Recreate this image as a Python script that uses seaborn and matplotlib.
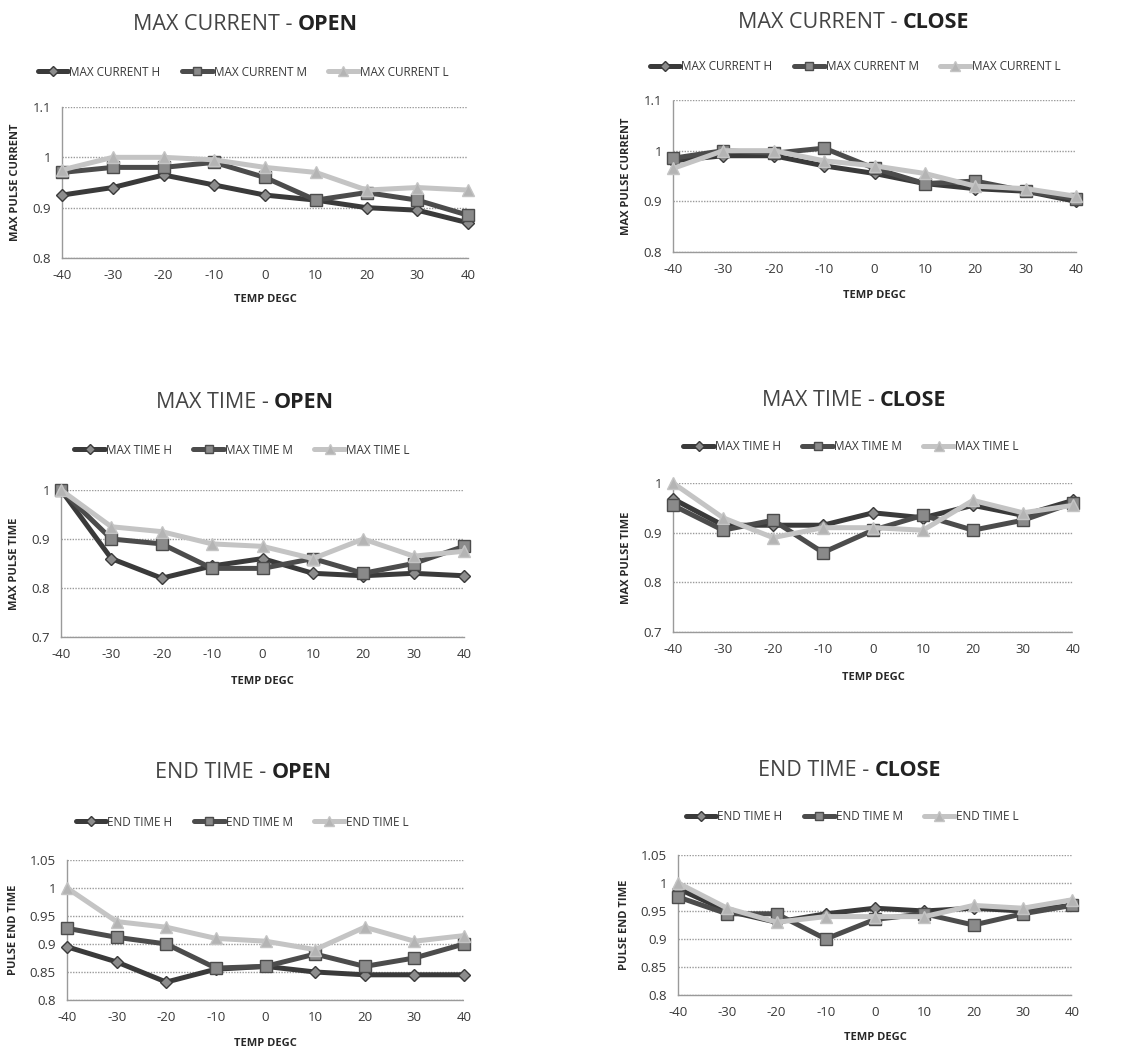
import numpy as np
import pandas as pd
import matplotlib
matplotlib.use("Agg")
import matplotlib.pyplot as plt
import seaborn as sns
from matplotlib.ticker import FuncFormatter

# ---------------- data ----------------
temps = [-40, -30, -20, -10, 0, 10, 20, 30, 40]

mc_open_h = [0.925, 0.94, 0.965, 0.945, 0.925, 0.915, 0.90, 0.895, 0.87]
mc_open_m = [0.97, 0.98, 0.98, 0.99, 0.96, 0.915, 0.93, 0.915, 0.885]
mc_open_l = [0.975, 1.0, 1.0, 0.995, 0.98, 0.97, 0.935, 0.94, 0.935]

mc_close_h = [0.98, 0.99, 0.99, 0.97, 0.955, 0.935, 0.925, 0.92, 0.90]
mc_close_m = [0.985, 1.0, 0.995, 1.005, 0.965, 0.935, 0.94, 0.92, 0.905]
mc_close_l = [0.965, 1.0, 1.0, 0.98, 0.97, 0.955, 0.93, 0.925, 0.91]

mt_open_h = [1.0, 0.86, 0.82, 0.845, 0.86, 0.83, 0.825, 0.83, 0.825]
mt_open_m = [1.0, 0.90, 0.89, 0.84, 0.84, 0.86, 0.83, 0.85, 0.885]
mt_open_l = [1.0, 0.925, 0.915, 0.89, 0.885, 0.86, 0.90, 0.865, 0.875]

mt_close_h = [0.968, 0.915, 0.915, 0.915, 0.94, 0.93, 0.955, 0.935, 0.965]
mt_close_m = [0.955, 0.905, 0.925, 0.86, 0.905, 0.935, 0.905, 0.925, 0.96]
mt_close_l = [1.0, 0.93, 0.89, 0.91, 0.91, 0.905, 0.965, 0.94, 0.955]

et_open_h = [0.895, 0.868, 0.832, 0.855, 0.86, 0.85, 0.845, 0.845, 0.845]
et_open_m = [0.928, 0.912, 0.90, 0.857, 0.86, 0.882, 0.86, 0.875, 0.90]
et_open_l = [1.0, 0.94, 0.93, 0.91, 0.905, 0.89, 0.93, 0.905, 0.915]

et_close_h = [0.99, 0.95, 0.93, 0.945, 0.955, 0.95, 0.955, 0.95, 0.96]
et_close_m = [0.975, 0.945, 0.945, 0.90, 0.935, 0.945, 0.925, 0.945, 0.96]
et_close_l = [1.0, 0.955, 0.93, 0.94, 0.94, 0.94, 0.96, 0.955, 0.97]

series_suffix = ["H", "M", "L"]

panels = [
    dict(title1="MAX CURRENT - ", title2="OPEN", prefix="MAX CURRENT", ylabel="MAX PULSE CURRENT",
         data=[mc_open_h, mc_open_m, mc_open_l], yticks=[0.8, 0.9, 1.0, 1.1]),
    dict(title1="MAX CURRENT - ", title2="CLOSE", prefix="MAX CURRENT", ylabel="MAX PULSE CURRENT",
         data=[mc_close_h, mc_close_m, mc_close_l], yticks=[0.8, 0.9, 1.0, 1.1]),
    dict(title1="MAX TIME - ", title2="OPEN", prefix="MAX TIME", ylabel="MAX PULSE TIME",
         data=[mt_open_h, mt_open_m, mt_open_l], yticks=[0.7, 0.8, 0.9, 1.0]),
    dict(title1="MAX TIME - ", title2="CLOSE", prefix="MAX TIME", ylabel="MAX PULSE TIME",
         data=[mt_close_h, mt_close_m, mt_close_l], yticks=[0.7, 0.8, 0.9, 1.0]),
    dict(title1="END TIME - ", title2="OPEN", prefix="END TIME", ylabel="PULSE END TIME",
         data=[et_open_h, et_open_m, et_open_l], yticks=[0.8, 0.85, 0.9, 0.95, 1.0, 1.05]),
    dict(title1="END TIME - ", title2="CLOSE", prefix="END TIME", ylabel="PULSE END TIME",
         data=[et_close_h, et_close_m, et_close_l], yticks=[0.8, 0.85, 0.9, 0.95, 1.0, 1.05]),
]

# ---------------- layout (pixels) ----------------
W, H = 1130, 1050
layout = [
    dict(ax=(62, 468, 107, 258), tj=(298, 25), lg=(243, 72), xl=300),
    dict(ax=(673, 1076, 100, 252), tj=(903, 22), lg=(855, 67), xl=295),
    dict(ax=(61, 464, 490, 637), tj=(274, 403), lg=(242, 450), xl=682),
    dict(ax=(673, 1073, 483, 632), tj=(880, 400), lg=(851, 447), xl=677),
    dict(ax=(67, 464, 860, 1000), tj=(272, 773), lg=(242, 822), xl=1043),
    dict(ax=(678, 1072, 855, 995), tj=(875, 770), lg=(852, 817), xl=1038),
]

sns.set_style("white")
plt.rcParams["font.family"] = ["Open Sans", "DejaVu Sans"]
plt.rcParams["axes.unicode_minus"] = False

line_colors = ["#3a3a3a", "#4c4c4c", "#c4c4c4"]
face_colors = ["#8c8c8c", "#8a8a8a", "#b4b4b4"]
markers = ["D", "s", "^"]
msizes = [6.5, 8, 8.5]
text_col = "#383838"

fig = plt.figure(figsize=(W / 100, H / 100), dpi=100)
fmt = FuncFormatter(lambda v, p: f"{v:g}")

for pan, lay in zip(panels, layout):
    l, r, t, b = lay["ax"]
    ax = fig.add_axes([l / W, 1 - b / H, (r - l) / W, (b - t) / H])
    handles = []
    for i, (vals, suf) in enumerate(zip(pan["data"], series_suffix)):
        df = pd.DataFrame({"temp": temps, "val": vals})
        sns.lineplot(data=df, x="temp", y="val", ax=ax, color=line_colors[i],
                     marker=markers[i], markersize=msizes[i], linewidth=3.6,
                     markerfacecolor=face_colors[i], markeredgecolor=line_colors[i],
                     markeredgewidth=1.0, zorder=3 + i, clip_on=False,
                     label=f"{pan['prefix']} {suf}", legend=False)
        handles.append(ax.lines[-1])
    yt = pan["yticks"]
    ax.set_xlim(-40, 40)
    ax.set_ylim(yt[0], yt[-1])
    ax.set_xticks(temps)
    ax.set_yticks(yt)
    ax.yaxis.set_major_formatter(fmt)
    ax.grid(axis="y", color="#9a9a9a", linestyle=(0, (1, 1)), linewidth=1.0)
    ax.set_axisbelow(True)
    for s in ["top", "right"]:
        ax.spines[s].set_visible(False)
    for s in ["left", "bottom"]:
        ax.spines[s].set_color("#9a9a9a")
        ax.spines[s].set_linestyle((0, (1, 1)))
        ax.spines[s].set_linewidth(1.0)
    ax.tick_params(axis="both", length=0, labelsize=9.5, labelcolor=text_col, pad=8)
    ax.set_xlabel("")
    ax.set_ylabel(pan["ylabel"], fontsize=8, fontweight="bold", color="#282828", labelpad=8)

    fig.text(((l + r) / 2) / W, 1 - lay["xl"] / H, "TEMP DEGC", ha="center", va="center",
             fontsize=8, fontweight="bold", color="#282828")

    tx, ty = lay["tj"]
    fig.text(tx / W, 1 - ty / H, pan["title1"], ha="right", va="center",
             fontsize=15.5, color="#444444")
    fig.text(tx / W, 1 - ty / H, pan["title2"], ha="left", va="center",
             fontsize=15.5, fontweight="bold", color="#222222")

    lx, ly = lay["lg"]
    leg = fig.legend(handles=handles, labels=[f"{pan['prefix']} {s}" for s in series_suffix],
                     loc="center", bbox_to_anchor=(lx / W, 1 - ly / H), ncol=3,
                     frameon=False, fontsize=8.5, handlelength=2.6, handletextpad=0.1,
                     columnspacing=1.8, markerscale=0.8)
    for txt in leg.get_texts():
        txt.set_color(text_col)

fig.savefig("out.png", dpi=100, facecolor="white")
